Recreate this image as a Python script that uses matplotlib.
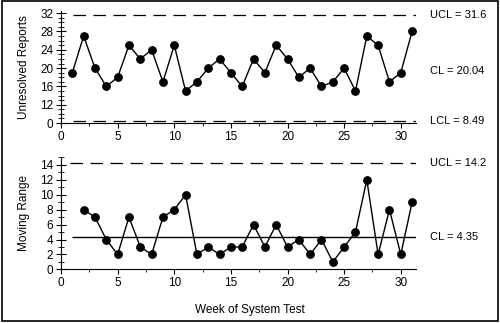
import matplotlib
matplotlib.use("Agg")
import matplotlib.pyplot as plt
from matplotlib.patches import Rectangle
from matplotlib.ticker import MultipleLocator

plt.rcParams['font.family'] = ['Liberation Sans', 'DejaVu Sans']
plt.rcParams['font.size'] = 8

weeks = list(range(1, 32))
reports = [19, 27, 20, 16, 18, 25, 22, 24, 17, 25, 15, 17, 20, 22, 19, 16,
           22, 19, 25, 22, 18, 20, 16, 17, 20, 15, 27, 25, 17, 19, 28]
mr_weeks = list(range(2, 32))
moving_range = [8, 7, 4, 2, 7, 3, 2, 7, 8, 10, 2, 3, 2, 3, 3, 6, 3, 6, 3, 4,
                2, 4, 1, 3, 5, 12, 2, 8, 2, 9]

ucl_x, cl_x, lcl_x = 31.6, 20.04, 8.49
ucl_mr, cl_mr = 14.2, 4.35

# top chart: axis starts at 8 but the bottom tick is labelled 0 (broken axis)
top_ticks = [8, 12, 16, 20, 24, 28, 32]
top_labels = ['0', '12', '16', '20', '24', '28', '32']
mr_ticks = [0, 2, 4, 6, 8, 10, 12, 14]

fig = plt.figure(figsize=(5, 3.23), dpi=100)
ax1 = fig.add_axes([0.122, 0.619, 0.709, 0.348])
ax2 = fig.add_axes([0.122, 0.166, 0.709, 0.349])

XMAX = 31.3
DASH = (0, (10, 6))


def style(ax):
    ax.spines['top'].set_visible(False)
    ax.spines['right'].set_visible(False)
    ax.set_xlim(0, XMAX)
    ax.xaxis.set_major_locator(MultipleLocator(5))
    ax.xaxis.set_minor_locator(MultipleLocator(2.5))
    ax.yaxis.set_minor_locator(MultipleLocator(1))
    ax.tick_params(axis='y', which='major', direction='inout', length=7, width=0.8, pad=2)
    ax.tick_params(axis='y', which='minor', direction='inout', length=4, width=0.6)
    ax.tick_params(axis='x', which='major', direction='out', length=3.5, width=0.8, pad=2)
    ax.tick_params(axis='x', which='minor', direction='out', length=2.5, width=0.6)
    ax.tick_params(labelsize=8.5)


# --- individuals chart
ax1.plot(weeks, reports, color='black', lw=1, marker='o', ms=5.3, zorder=3)
ax1.hlines([ucl_x, lcl_x], 1.1, XMAX, colors='black', linestyles=DASH, lw=0.9)
style(ax1)
ax1.set_ylim(8, 32.55)
ax1.set_yticks(top_ticks)
ax1.set_yticklabels(top_labels)
ax1.set_ylabel('Unresolved Reports', fontsize=8.5, labelpad=7)
ax1.text(32.6, ucl_x, 'UCL = 31.6', va='center', fontsize=8)
ax1.text(32.6, cl_x - 0.6, 'CL = 20.04', va='center', fontsize=8)
ax1.text(32.6, lcl_x, 'LCL = 8.49', va='center', fontsize=8)

# --- moving range chart
ax2.plot(mr_weeks, moving_range, color='black', lw=1, marker='o', ms=5.3, zorder=3)
ax2.hlines(ucl_mr, 0.8, XMAX, colors='black', linestyles=DASH, lw=0.9)
ax2.hlines(cl_mr, 1, XMAX, colors='black', lw=1)
style(ax2)
ax2.set_ylim(0, 15.1)
ax2.set_yticks(mr_ticks)
ax2.set_ylabel('Moving Range', fontsize=8.5, labelpad=7)
ax2.text(32.6, ucl_mr, 'UCL = 14.2', va='center', fontsize=8)
ax2.text(32.6, cl_mr, 'CL = 4.35', va='center', fontsize=8)

fig.text(0.5, 0.04, 'Week of System Test', ha='center', va='center', fontsize=8.5)

# frame around the whole figure
fig.patches.append(Rectangle((0.003, 0.006), 0.993, 0.99, transform=fig.transFigure,
                             fill=False, edgecolor='black', lw=1.2))

fig.savefig('out.png', dpi=100)
